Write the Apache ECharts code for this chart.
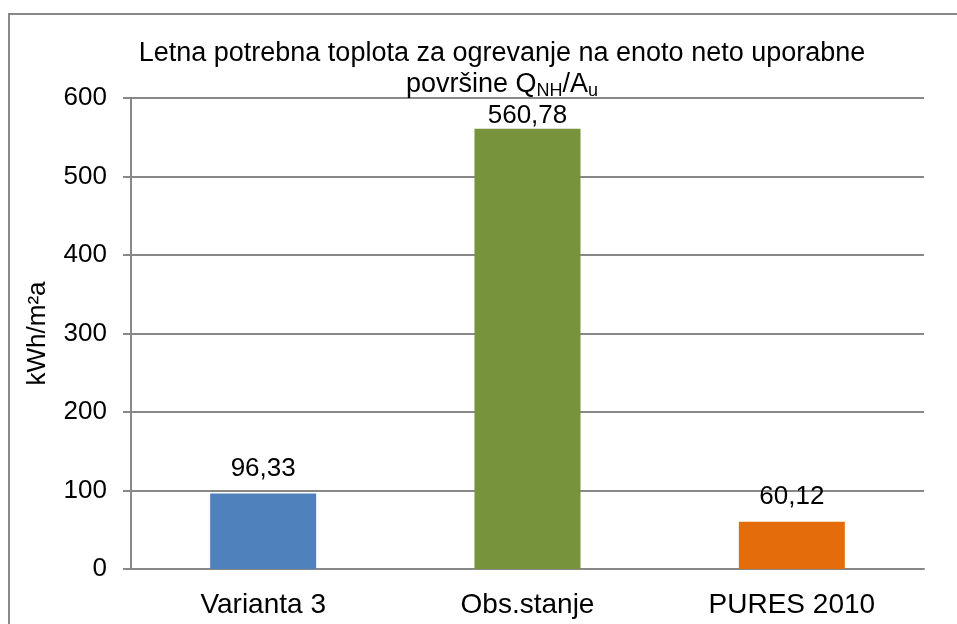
<!DOCTYPE html>
<html><head><meta charset="utf-8">
<script src="https://cdn.jsdelivr.net/npm/echarts@6/dist/echarts.min.js"></script>
<style>html,body{margin:0;padding:0;background:#fff}#c{width:957px;height:624px}</style>
</head><body><div id="c"></div>
<script>
const categories = ['Varianta 3', 'Obs.stanje', 'PURES 2010'];
const values = [96.33, 560.78, 60.12];
const barColors = ['#4F81BD', '#77933C', '#E46C0A'];
const yTicks = { min: 0, max: 600, interval: 100 };

const chart = echarts.init(document.getElementById('c'));
const F = 'Liberation Sans, Arial, sans-serif';
chart.setOption({
  animation: false,
  backgroundColor: '#fff',
  graphic: [{
    type: 'rect', shape: { x: 9, y: 14, width: 1000, height: 700 },
    style: { fill: 'none', stroke: '#888', lineWidth: 2 }, silent: true, z: -1
  }],
  title: {
    text: '{a|Letna potrebna toplota za ogrevanje na enoto neto uporabne}\n{a|površine Q}{s|NH}{a|/A}{s|u}',
    left: 497, top: 33, textAlign: 'center',
    textStyle: {
      fontWeight: 'normal',
      rich: {
        a: { fontFamily: F, fontSize: 27, fontWeight: 'normal', color: '#000', lineHeight: 31 },
        s: { fontFamily: F, fontSize: 18, fontWeight: 'normal', color: '#000', lineHeight: 16, verticalAlign: 'bottom' }
      }
    }
  },
  grid: { left: 131, right: 33, top: 98, bottom: 55, containLabel: false },
  xAxis: {
    type: 'category', data: categories,
    axisLine: { lineStyle: { color: '#888', width: 2 } },
    axisTick: { show: false },
    axisLabel: { color: '#000', fontFamily: F, fontSize: 28, margin: 22 }
  },
  yAxis: {
    type: 'value', min: yTicks.min, max: yTicks.max, interval: yTicks.interval,
    name: 'kWh/m²a', nameLocation: 'middle', nameGap: 80, nameRotate: 90,
    nameTextStyle: { color: '#000', fontFamily: F, fontSize: 26 },
    axisLine: { show: true, lineStyle: { color: '#888', width: 2 } },
    axisTick: { show: true, length: 8, lineStyle: { color: '#888', width: 2 } },
    axisLabel: { color: '#000', fontFamily: F, fontSize: 26, margin: 24 },
    splitLine: { lineStyle: { color: '#888', width: 2 } }
  },
  series: [{
    type: 'bar',
    data: values.map((v, i) => ({
      value: v,
      itemStyle: { color: barColors[i] },
      label: { distance: v > 500 ? 0 : 12 }
    })),
    barWidth: 106,
    label: {
      show: true, position: 'top', color: '#000', fontFamily: F, fontSize: 26,
      formatter: p => p.value.toFixed(2).replace('.', ',')
    }
  }]
});
</script></body></html>
